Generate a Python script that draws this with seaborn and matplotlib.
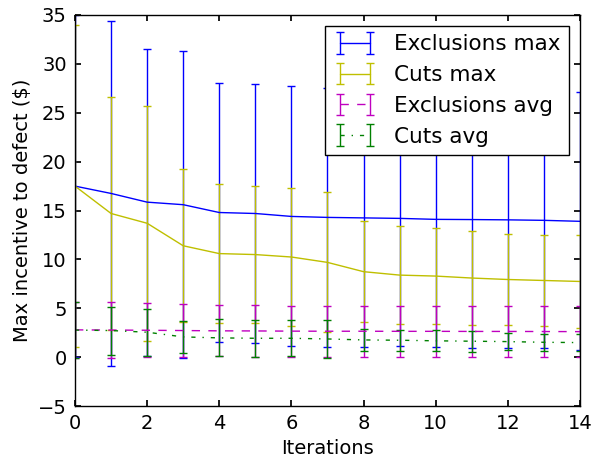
import numpy as np
import pandas as pd
import seaborn as sns
import matplotlib
matplotlib.use("Agg")
import matplotlib.pyplot as plt

iterations = list(range(15))

excl_max = [17.5, 16.75, 15.86, 15.6, 14.8, 14.7, 14.4, 14.3, 14.25, 14.2, 14.1, 14.08, 14.05, 14.0, 13.9]
excl_max_err = [17.5, 17.6, 15.7, 15.7, 13.2, 13.2, 13.3, 13.25, 13.25, 13.1, 13.1, 13.1, 13.15, 13.1, 13.2]

cuts_max = [17.5, 14.7, 13.7, 11.4, 10.6, 10.5, 10.25, 9.7, 8.75, 8.4, 8.3, 8.1, 7.95, 7.85, 7.75]
cuts_max_err = [16.45, 11.9, 12.0, 7.8, 7.1, 7.0, 7.05, 7.15, 5.15, 5.0, 4.9, 4.8, 4.7, 4.7, 4.75]

excl_avg = [2.8, 2.78, 2.76, 2.73, 2.7, 2.69, 2.67, 2.66, 2.66, 2.65, 2.65, 2.64, 2.64, 2.63, 2.62]
excl_avg_err = [2.9, 2.9, 2.75, 2.75, 2.62, 2.62, 2.62, 2.62, 2.62, 2.62, 2.62, 2.62, 2.62, 2.62, 2.62]

cuts_avg = [2.78, 2.73, 2.56, 2.08, 1.98, 1.94, 1.94, 1.87, 1.77, 1.74, 1.68, 1.64, 1.6, 1.53, 1.5]
cuts_avg_err = [2.9, 2.45, 2.42, 1.64, 1.9, 1.87, 1.86, 1.9, 1.15, 1.08, 1.07, 1.07, 0.89, 0.87, 0.9]

series_labels = ["Exclusions max", "Cuts max", "Exclusions avg", "Cuts avg"]

sns.set_theme(style="ticks", rc={
    "font.size": 14,
    "axes.labelsize": 14,
    "xtick.labelsize": 14,
    "ytick.labelsize": 14,
    "legend.fontsize": 15.5,
    "xtick.direction": "in",
    "ytick.direction": "in",
    "xtick.top": True,
    "ytick.right": True,
    "xtick.major.size": 4,
    "ytick.major.size": 4,
    "xtick.major.pad": 6,
    "ytick.major.pad": 6,
    "axes.edgecolor": "black",
    "axes.linewidth": 1.0,
    "xtick.color": "black",
    "ytick.color": "black",
    "axes.labelcolor": "black",
    "text.color": "black",
    "lines.linewidth": 1.0,
    "lines.scale_dashes": False,
})
plt.rcParams["font.family"] = ["DejaVu Sans"]

fig = plt.figure(figsize=(5.93, 4.61), dpi=100)
ax = fig.add_axes([0.1265, 0.119, 0.978 - 0.1265, 0.9675 - 0.119])

specs = [
    (excl_max, excl_max_err, (0, 0, 1), "-"),
    (cuts_max, cuts_max_err, (0.75, 0.75, 0), "-"),
    (excl_avg, excl_avg_err, (0.75, 0, 0.75), (0, (6, 6))),
    (cuts_avg, cuts_avg_err, (0, 0.5, 0), (0, (3, 5, 1, 5))),
]
for (vals, errs, col, ls), lab in zip(specs, series_labels):
    ax.errorbar(iterations, vals, yerr=errs, color=col, ecolor=col, linestyle=ls,
                linewidth=1.0, elinewidth=1.0, capsize=3, capthick=1.0,
                label=lab, clip_on=True)

ax.set_xlim(0, 14)
ax.set_ylim(-5, 35)
ax.set_xticks(range(0, 15, 2))
ax.set_yticks(range(-5, 36, 5))
ax.set_xlabel("Iterations")
ax.set_ylabel("Max incentive to defect (\\$)")
ax.grid(False)

leg = ax.legend(loc="upper right", numpoints=2, frameon=True, fancybox=False,
                framealpha=1.0, edgecolor="black", borderpad=0.4,
                labelspacing=0.5, handlelength=2.0, handletextpad=0.8,
                borderaxespad=0.5)
leg.get_frame().set_linewidth(1.0)

fig.savefig("out.png", dpi=100)
